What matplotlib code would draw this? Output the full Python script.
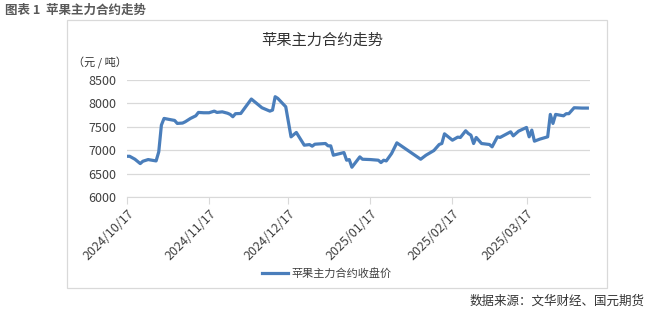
import matplotlib

matplotlib.use("Agg")

import matplotlib.pyplot as plt
import matplotlib.dates as mdates
from matplotlib.patches import Rectangle
import numpy as np

plt.rcParams["font.family"] = ["Noto Sans CJK SC", "DejaVu Sans"]

# apple main contract close
dates = [
    "2024-10-17", "2024-10-18", "2024-10-20", "2024-10-22", "2024-10-23",
    "2024-10-25", "2024-10-26", "2024-10-28", "2024-10-29", "2024-10-30",
    "2024-10-31", "2024-11-02", "2024-11-04", "2024-11-05", "2024-11-07",
    "2024-11-08", "2024-11-10", "2024-11-12", "2024-11-13", "2024-11-15",
    "2024-11-17", "2024-11-19", "2024-11-20", "2024-11-22", "2024-11-24",
    "2024-11-25", "2024-11-26", "2024-11-27", "2024-11-29", "2024-12-03",
    "2024-12-05", "2024-12-07", "2024-12-10", "2024-12-11", "2024-12-12",
    "2024-12-13", "2024-12-16", "2024-12-18", "2024-12-20", "2024-12-23",
    "2024-12-25", "2024-12-26", "2024-12-27", "2024-12-31", "2025-01-01",
    "2025-01-02", "2025-01-03", "2025-01-07", "2025-01-08", "2025-01-09",
    "2025-01-10", "2025-01-13", "2025-01-14", "2025-01-17", "2025-01-20",
    "2025-01-21", "2025-01-22", "2025-01-23", "2025-01-25", "2025-01-27",
    "2025-02-05", "2025-02-07", "2025-02-10", "2025-02-12", "2025-02-13",
    "2025-02-14", "2025-02-17", "2025-02-19", "2025-02-20", "2025-02-22",
    "2025-02-23", "2025-02-24", "2025-02-25", "2025-02-26", "2025-02-28",
    "2025-03-03", "2025-03-04", "2025-03-06", "2025-03-07", "2025-03-11",
    "2025-03-12", "2025-03-14", "2025-03-17", "2025-03-18", "2025-03-19",
    "2025-03-20", "2025-03-22", "2025-03-25", "2025-03-26", "2025-03-27",
    "2025-03-28", "2025-03-31", "2025-04-01", "2025-04-02", "2025-04-04",
    "2025-04-07", "2025-04-09",
]
close = [
    6870, 6870, 6807, 6714, 6764,
    6800, 6790, 6771, 6964, 7536,
    7679, 7657, 7636, 7572, 7580,
    7607, 7679, 7735, 7807, 7800,
    7800, 7835, 7807, 7820, 7790,
    7765, 7715, 7780, 7785, 8093,
    8000, 7907, 7835, 7857, 8143,
    8107, 7928, 7285, 7379, 7107,
    7120, 7086, 7128, 7143, 7093,
    7093, 6893, 6950, 6786, 6800,
    6636, 6857, 6807, 6800, 6786,
    6736, 6786, 6771, 6929, 7157,
    6807, 6893, 6993, 7122, 7143,
    7350, 7214, 7279, 7272, 7415,
    7357, 7321, 7143, 7272, 7143,
    7122, 7072, 7286, 7272, 7393,
    7307, 7407, 7486, 7286, 7429,
    7193, 7236, 7286, 7765, 7572,
    7765, 7735, 7780, 7780, 7907,
    7900, 7900,
]
tick_dates = ["2024-10-17", "2024-11-17", "2024-12-17",
              "2025-01-17", "2025-02-17", "2025-03-17"]
yticks = [6000, 6500, 7000, 7500, 8000, 8500]

x = np.array(dates, dtype="datetime64[D]")
xt = np.array(tick_dates, dtype="datetime64[D]")

W, H = 650, 313
fig = plt.figure(figsize=(6.5, 3.13), dpi=100)
ax = fig.add_axes([127 / W, 1 - 197 / H, (590 - 127) / W, (197 - 80) / H])

ax.plot(x, close, color="#4a7ebb", lw=2.3, label="苹果主力合约收盘价")

ax.set_ylim(6000, 8500)
ax.set_yticks(yticks)
ax.set_xlim(np.datetime64("2024-10-17"), np.datetime64("2025-04-10"))
ax.set_xticks(xt)
ax.xaxis.set_major_formatter(mdates.DateFormatter("%Y/%m/%d"))
ax.grid(axis="y", color="#d9d9d9", lw=0.9)
ax.set_axisbelow(True)
for s in ["top", "right", "left"]:
    ax.spines[s].set_visible(False)
ax.spines["bottom"].set_color("#d9d9d9")
ax.tick_params(axis="y", length=0, labelsize=9, colors="#404040", pad=8)
ax.tick_params(axis="x", length=5, color="#d9d9d9", labelsize=9,
               labelcolor="#404040", pad=2)
for lab in ax.get_xticklabels():
    lab.set_rotation(45)
    lab.set_ha("right")
    lab.set_rotation_mode("anchor")

ax.legend(loc="center", bbox_to_anchor=(327 / W, 1 - 273 / H),
          bbox_transform=fig.transFigure, frameon=False, fontsize=8,
          handlelength=2.3, handletextpad=0.3, labelcolor="#404040")

# outer frame of the chart box
fig.add_artist(Rectangle((67 / W, 1 - 288 / H), (607 - 67) / W, (288 - 20) / H,
                         transform=fig.transFigure, fill=False,
                         edgecolor="#d9d9d9", lw=0.9))

fig.text(322 / W, 1 - 40 / H, "苹果主力合约走势", ha="center", va="center",
         fontsize=11, color="#333333")
fig.text(73 / W, 1 - 63 / H, "（元 / 吨）", ha="left", va="center",
         fontsize=8, color="#333333")
fig.text(5 / W, 1 - 10 / H, "图表 1  苹果主力合约走势", ha="left", va="center",
         fontsize=9, color="#595959", fontweight="bold")
fig.text(645 / W, 1 - 301 / H, "数据来源：文华财经、国元期货", ha="right",
         va="center", fontsize=9, color="#333333")

fig.savefig("out.png", dpi=100)
